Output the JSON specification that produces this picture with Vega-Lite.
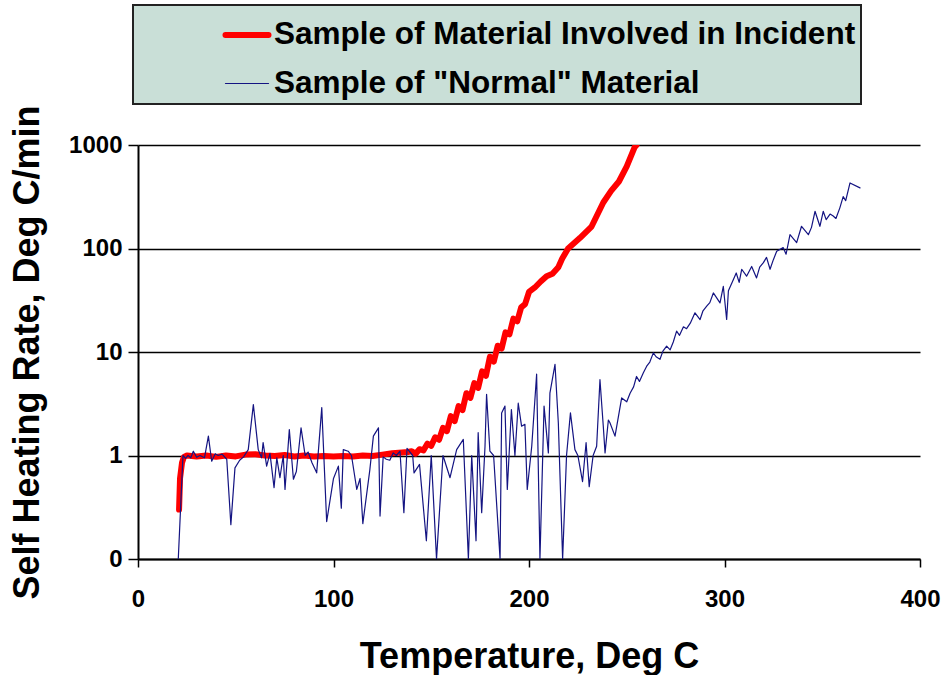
{
  "$schema": "https://vega.github.io/schema/vega-lite/v6.json",
  "width": 782,
  "height": 414,
  "autosize": {"type": "none"},
  "padding": {"left": 138, "top": 145, "right": 27, "bottom": 116},
  "background": "white",
  "config": {"font": "Liberation Sans", "view": {"stroke": null}},
  "data": {"values": [
    {"series": "Sample of Material Involved in Incident", "temp": 21, "rate": 0.3},
    {"series": "Sample of Material Involved in Incident", "temp": 21.5, "rate": 0.6},
    {"series": "Sample of Material Involved in Incident", "temp": 22.5, "rate": 0.85},
    {"series": "Sample of Material Involved in Incident", "temp": 23.5, "rate": 0.97},
    {"series": "Sample of Material Involved in Incident", "temp": 25, "rate": 1.0},
    {"series": "Sample of Material Involved in Incident", "temp": 30, "rate": 0.98},
    {"series": "Sample of Material Involved in Incident", "temp": 35, "rate": 1.0},
    {"series": "Sample of Material Involved in Incident", "temp": 40, "rate": 0.97},
    {"series": "Sample of Material Involved in Incident", "temp": 45, "rate": 1.0},
    {"series": "Sample of Material Involved in Incident", "temp": 50, "rate": 0.98},
    {"series": "Sample of Material Involved in Incident", "temp": 55, "rate": 1.02},
    {"series": "Sample of Material Involved in Incident", "temp": 60, "rate": 1.03},
    {"series": "Sample of Material Involved in Incident", "temp": 65, "rate": 1.0},
    {"series": "Sample of Material Involved in Incident", "temp": 70, "rate": 0.99},
    {"series": "Sample of Material Involved in Incident", "temp": 75, "rate": 1.01},
    {"series": "Sample of Material Involved in Incident", "temp": 80, "rate": 0.98},
    {"series": "Sample of Material Involved in Incident", "temp": 85, "rate": 1.0},
    {"series": "Sample of Material Involved in Incident", "temp": 90, "rate": 0.98},
    {"series": "Sample of Material Involved in Incident", "temp": 95, "rate": 0.99},
    {"series": "Sample of Material Involved in Incident", "temp": 100, "rate": 0.98},
    {"series": "Sample of Material Involved in Incident", "temp": 105, "rate": 0.99},
    {"series": "Sample of Material Involved in Incident", "temp": 110, "rate": 0.98},
    {"series": "Sample of Material Involved in Incident", "temp": 115, "rate": 1.0},
    {"series": "Sample of Material Involved in Incident", "temp": 120, "rate": 0.99},
    {"series": "Sample of Material Involved in Incident", "temp": 125, "rate": 1.02},
    {"series": "Sample of Material Involved in Incident", "temp": 130, "rate": 1.05},
    {"series": "Sample of Material Involved in Incident", "temp": 135, "rate": 1.07},
    {"series": "Sample of Material Involved in Incident", "temp": 138, "rate": 1.08},
    {"series": "Sample of Material Involved in Incident", "temp": 140, "rate": 1.1},
    {"series": "Sample of Material Involved in Incident", "temp": 142, "rate": 1.04},
    {"series": "Sample of Material Involved in Incident", "temp": 144, "rate": 1.15},
    {"series": "Sample of Material Involved in Incident", "temp": 146, "rate": 1.12},
    {"series": "Sample of Material Involved in Incident", "temp": 148, "rate": 1.3},
    {"series": "Sample of Material Involved in Incident", "temp": 150, "rate": 1.24},
    {"series": "Sample of Material Involved in Incident", "temp": 152, "rate": 1.5},
    {"series": "Sample of Material Involved in Incident", "temp": 154, "rate": 1.42},
    {"series": "Sample of Material Involved in Incident", "temp": 156, "rate": 1.85},
    {"series": "Sample of Material Involved in Incident", "temp": 158, "rate": 1.72},
    {"series": "Sample of Material Involved in Incident", "temp": 160, "rate": 2.4},
    {"series": "Sample of Material Involved in Incident", "temp": 162, "rate": 2.15},
    {"series": "Sample of Material Involved in Incident", "temp": 164, "rate": 3.0},
    {"series": "Sample of Material Involved in Incident", "temp": 166, "rate": 2.75},
    {"series": "Sample of Material Involved in Incident", "temp": 168, "rate": 4.0},
    {"series": "Sample of Material Involved in Incident", "temp": 170, "rate": 3.6},
    {"series": "Sample of Material Involved in Incident", "temp": 172, "rate": 5.0},
    {"series": "Sample of Material Involved in Incident", "temp": 174, "rate": 4.5},
    {"series": "Sample of Material Involved in Incident", "temp": 176, "rate": 6.5},
    {"series": "Sample of Material Involved in Incident", "temp": 178, "rate": 5.9},
    {"series": "Sample of Material Involved in Incident", "temp": 180, "rate": 9.0},
    {"series": "Sample of Material Involved in Incident", "temp": 182, "rate": 8.1},
    {"series": "Sample of Material Involved in Incident", "temp": 184, "rate": 11.5},
    {"series": "Sample of Material Involved in Incident", "temp": 186, "rate": 10.8},
    {"series": "Sample of Material Involved in Incident", "temp": 188, "rate": 15.5},
    {"series": "Sample of Material Involved in Incident", "temp": 190, "rate": 14.8},
    {"series": "Sample of Material Involved in Incident", "temp": 192, "rate": 21},
    {"series": "Sample of Material Involved in Incident", "temp": 194, "rate": 19.8},
    {"series": "Sample of Material Involved in Incident", "temp": 196, "rate": 27},
    {"series": "Sample of Material Involved in Incident", "temp": 198, "rate": 29},
    {"series": "Sample of Material Involved in Incident", "temp": 200, "rate": 38},
    {"series": "Sample of Material Involved in Incident", "temp": 203, "rate": 42},
    {"series": "Sample of Material Involved in Incident", "temp": 206, "rate": 48},
    {"series": "Sample of Material Involved in Incident", "temp": 209, "rate": 54},
    {"series": "Sample of Material Involved in Incident", "temp": 212, "rate": 57},
    {"series": "Sample of Material Involved in Incident", "temp": 215, "rate": 66},
    {"series": "Sample of Material Involved in Incident", "temp": 217, "rate": 80},
    {"series": "Sample of Material Involved in Incident", "temp": 220, "rate": 100},
    {"series": "Sample of Material Involved in Incident", "temp": 226, "rate": 126},
    {"series": "Sample of Material Involved in Incident", "temp": 232, "rate": 163},
    {"series": "Sample of Material Involved in Incident", "temp": 238, "rate": 278},
    {"series": "Sample of Material Involved in Incident", "temp": 242, "rate": 360},
    {"series": "Sample of Material Involved in Incident", "temp": 246, "rate": 444},
    {"series": "Sample of Material Involved in Incident", "temp": 250, "rate": 620},
    {"series": "Sample of Material Involved in Incident", "temp": 254, "rate": 950},
    {"series": "Sample of Material Involved in Incident", "temp": 255, "rate": 1000},
    {"series": "Sample of \"Normal\" Material", "temp": 20.6, "rate": 0.1},
    {"series": "Sample of \"Normal\" Material", "temp": 23, "rate": 1.0},
    {"series": "Sample of \"Normal\" Material", "temp": 24.3, "rate": 0.94},
    {"series": "Sample of \"Normal\" Material", "temp": 25.6, "rate": 1.0},
    {"series": "Sample of \"Normal\" Material", "temp": 27, "rate": 0.95},
    {"series": "Sample of \"Normal\" Material", "temp": 28.3, "rate": 1.1},
    {"series": "Sample of \"Normal\" Material", "temp": 30, "rate": 0.96},
    {"series": "Sample of \"Normal\" Material", "temp": 31.7, "rate": 1.0},
    {"series": "Sample of \"Normal\" Material", "temp": 34, "rate": 0.95},
    {"series": "Sample of \"Normal\" Material", "temp": 36, "rate": 1.54},
    {"series": "Sample of \"Normal\" Material", "temp": 37.7, "rate": 0.88},
    {"series": "Sample of \"Normal\" Material", "temp": 39.5, "rate": 1.04},
    {"series": "Sample of \"Normal\" Material", "temp": 41, "rate": 1.0},
    {"series": "Sample of \"Normal\" Material", "temp": 43, "rate": 1.03},
    {"series": "Sample of \"Normal\" Material", "temp": 45.4, "rate": 0.92},
    {"series": "Sample of \"Normal\" Material", "temp": 47.5, "rate": 0.215},
    {"series": "Sample of \"Normal\" Material", "temp": 49.6, "rate": 0.76},
    {"series": "Sample of \"Normal\" Material", "temp": 52, "rate": 0.9},
    {"series": "Sample of \"Normal\" Material", "temp": 54, "rate": 0.97},
    {"series": "Sample of \"Normal\" Material", "temp": 56.4, "rate": 1.14},
    {"series": "Sample of \"Normal\" Material", "temp": 59, "rate": 3.1},
    {"series": "Sample of \"Normal\" Material", "temp": 61.5, "rate": 1.14},
    {"series": "Sample of \"Normal\" Material", "temp": 63.2, "rate": 0.95},
    {"series": "Sample of \"Normal\" Material", "temp": 64, "rate": 1.33},
    {"series": "Sample of \"Normal\" Material", "temp": 65.8, "rate": 0.79},
    {"series": "Sample of \"Normal\" Material", "temp": 67.5, "rate": 1.05},
    {"series": "Sample of \"Normal\" Material", "temp": 69.6, "rate": 0.49},
    {"series": "Sample of \"Normal\" Material", "temp": 71, "rate": 0.95},
    {"series": "Sample of \"Normal\" Material", "temp": 72.6, "rate": 0.61},
    {"series": "Sample of \"Normal\" Material", "temp": 74.3, "rate": 1.0},
    {"series": "Sample of \"Normal\" Material", "temp": 75.2, "rate": 0.47},
    {"series": "Sample of \"Normal\" Material", "temp": 77.4, "rate": 1.78},
    {"series": "Sample of \"Normal\" Material", "temp": 79.5, "rate": 0.59},
    {"series": "Sample of \"Normal\" Material", "temp": 81, "rate": 0.7},
    {"series": "Sample of \"Normal\" Material", "temp": 83.4, "rate": 1.85},
    {"series": "Sample of \"Normal\" Material", "temp": 85.5, "rate": 1.0},
    {"series": "Sample of \"Normal\" Material", "temp": 87, "rate": 1.08},
    {"series": "Sample of \"Normal\" Material", "temp": 89, "rate": 0.85},
    {"series": "Sample of \"Normal\" Material", "temp": 91.4, "rate": 0.68},
    {"series": "Sample of \"Normal\" Material", "temp": 94, "rate": 2.9},
    {"series": "Sample of \"Normal\" Material", "temp": 96.5, "rate": 0.23},
    {"series": "Sample of \"Normal\" Material", "temp": 100, "rate": 0.6},
    {"series": "Sample of \"Normal\" Material", "temp": 102.5, "rate": 0.79},
    {"series": "Sample of \"Normal\" Material", "temp": 104, "rate": 0.31},
    {"series": "Sample of \"Normal\" Material", "temp": 105, "rate": 1.14},
    {"series": "Sample of \"Normal\" Material", "temp": 107.5, "rate": 1.1},
    {"series": "Sample of \"Normal\" Material", "temp": 109.2, "rate": 1.0},
    {"series": "Sample of \"Normal\" Material", "temp": 111.9, "rate": 0.47},
    {"series": "Sample of \"Normal\" Material", "temp": 113.6, "rate": 0.6},
    {"series": "Sample of \"Normal\" Material", "temp": 115, "rate": 0.22},
    {"series": "Sample of \"Normal\" Material", "temp": 118.6, "rate": 0.73},
    {"series": "Sample of \"Normal\" Material", "temp": 120.4, "rate": 1.54},
    {"series": "Sample of \"Normal\" Material", "temp": 123, "rate": 1.85},
    {"series": "Sample of \"Normal\" Material", "temp": 123.8, "rate": 0.26},
    {"series": "Sample of \"Normal\" Material", "temp": 125.4, "rate": 0.97},
    {"series": "Sample of \"Normal\" Material", "temp": 127, "rate": 0.92},
    {"series": "Sample of \"Normal\" Material", "temp": 128.8, "rate": 0.9},
    {"series": "Sample of \"Normal\" Material", "temp": 130.5, "rate": 1.06},
    {"series": "Sample of \"Normal\" Material", "temp": 132.2, "rate": 1.0},
    {"series": "Sample of \"Normal\" Material", "temp": 134, "rate": 1.1},
    {"series": "Sample of \"Normal\" Material", "temp": 136, "rate": 0.28},
    {"series": "Sample of \"Normal\" Material", "temp": 137.6, "rate": 1.17},
    {"series": "Sample of \"Normal\" Material", "temp": 140.5, "rate": 1.0},
    {"series": "Sample of \"Normal\" Material", "temp": 141.2, "rate": 0.68},
    {"series": "Sample of \"Normal\" Material", "temp": 144, "rate": 0.82},
    {"series": "Sample of \"Normal\" Material", "temp": 147.5, "rate": 0.15},
    {"series": "Sample of \"Normal\" Material", "temp": 150, "rate": 1.0},
    {"series": "Sample of \"Normal\" Material", "temp": 152.7, "rate": 0.1},
    {"series": "Sample of \"Normal\" Material", "temp": 156, "rate": 1.0},
    {"series": "Sample of \"Normal\" Material", "temp": 159.6, "rate": 0.61},
    {"series": "Sample of \"Normal\" Material", "temp": 163, "rate": 1.14},
    {"series": "Sample of \"Normal\" Material", "temp": 166.4, "rate": 1.43},
    {"series": "Sample of \"Normal\" Material", "temp": 169, "rate": 0.1},
    {"series": "Sample of \"Normal\" Material", "temp": 170.7, "rate": 1.0},
    {"series": "Sample of \"Normal\" Material", "temp": 172.9, "rate": 0.15},
    {"series": "Sample of \"Normal\" Material", "temp": 174, "rate": 1.66},
    {"series": "Sample of \"Normal\" Material", "temp": 175.8, "rate": 0.28},
    {"series": "Sample of \"Normal\" Material", "temp": 177.5, "rate": 1.23},
    {"series": "Sample of \"Normal\" Material", "temp": 178.3, "rate": 3.9},
    {"series": "Sample of \"Normal\" Material", "temp": 180, "rate": 1.1},
    {"series": "Sample of \"Normal\" Material", "temp": 181.9, "rate": 1.0},
    {"series": "Sample of \"Normal\" Material", "temp": 185.2, "rate": 0.1},
    {"series": "Sample of \"Normal\" Material", "temp": 186, "rate": 2.58},
    {"series": "Sample of \"Normal\" Material", "temp": 187.7, "rate": 3.0},
    {"series": "Sample of \"Normal\" Material", "temp": 188.9, "rate": 0.47},
    {"series": "Sample of \"Normal\" Material", "temp": 191, "rate": 2.78},
    {"series": "Sample of \"Normal\" Material", "temp": 192.8, "rate": 1.0},
    {"series": "Sample of \"Normal\" Material", "temp": 194.5, "rate": 3.2},
    {"series": "Sample of \"Normal\" Material", "temp": 196.2, "rate": 1.92},
    {"series": "Sample of \"Normal\" Material", "temp": 197.9, "rate": 2.0},
    {"series": "Sample of \"Normal\" Material", "temp": 199.1, "rate": 0.47},
    {"series": "Sample of \"Normal\" Material", "temp": 201.4, "rate": 1.23},
    {"series": "Sample of \"Normal\" Material", "temp": 203.9, "rate": 6.1},
    {"series": "Sample of \"Normal\" Material", "temp": 205.6, "rate": 0.1},
    {"series": "Sample of \"Normal\" Material", "temp": 207.7, "rate": 3.0},
    {"series": "Sample of \"Normal\" Material", "temp": 209.9, "rate": 1.06},
    {"series": "Sample of \"Normal\" Material", "temp": 210.7, "rate": 4.0},
    {"series": "Sample of \"Normal\" Material", "temp": 213.3, "rate": 7.6},
    {"series": "Sample of \"Normal\" Material", "temp": 215, "rate": 2.07},
    {"series": "Sample of \"Normal\" Material", "temp": 217.2, "rate": 0.1},
    {"series": "Sample of \"Normal\" Material", "temp": 219.2, "rate": 1.0},
    {"series": "Sample of \"Normal\" Material", "temp": 221.2, "rate": 2.58},
    {"series": "Sample of \"Normal\" Material", "temp": 223.5, "rate": 1.14},
    {"series": "Sample of \"Normal\" Material", "temp": 225, "rate": 1.0},
    {"series": "Sample of \"Normal\" Material", "temp": 227.4, "rate": 0.56},
    {"series": "Sample of \"Normal\" Material", "temp": 229.2, "rate": 1.33},
    {"series": "Sample of \"Normal\" Material", "temp": 230.8, "rate": 0.5},
    {"series": "Sample of \"Normal\" Material", "temp": 232.8, "rate": 1.0},
    {"series": "Sample of \"Normal\" Material", "temp": 234.6, "rate": 1.23},
    {"series": "Sample of \"Normal\" Material", "temp": 236.3, "rate": 5.4},
    {"series": "Sample of \"Normal\" Material", "temp": 238, "rate": 1.92},
    {"series": "Sample of \"Normal\" Material", "temp": 238.9, "rate": 1.06},
    {"series": "Sample of \"Normal\" Material", "temp": 240.6, "rate": 2.2},
    {"series": "Sample of \"Normal\" Material", "temp": 241.4, "rate": 2.07},
    {"series": "Sample of \"Normal\" Material", "temp": 244, "rate": 1.54},
    {"series": "Sample of \"Normal\" Material", "temp": 247.4, "rate": 3.6},
    {"series": "Sample of \"Normal\" Material", "temp": 250, "rate": 3.3},
    {"series": "Sample of \"Normal\" Material", "temp": 251.7, "rate": 4.0},
    {"series": "Sample of \"Normal\" Material", "temp": 253.5, "rate": 4.6},
    {"series": "Sample of \"Normal\" Material", "temp": 255, "rate": 5.8},
    {"series": "Sample of \"Normal\" Material", "temp": 256.5, "rate": 5.2},
    {"series": "Sample of \"Normal\" Material", "temp": 258.5, "rate": 6.3},
    {"series": "Sample of \"Normal\" Material", "temp": 260.2, "rate": 7.3},
    {"series": "Sample of \"Normal\" Material", "temp": 261.8, "rate": 8.0},
    {"series": "Sample of \"Normal\" Material", "temp": 263.6, "rate": 9.8},
    {"series": "Sample of \"Normal\" Material", "temp": 265, "rate": 9.0},
    {"series": "Sample of \"Normal\" Material", "temp": 267, "rate": 8.5},
    {"series": "Sample of \"Normal\" Material", "temp": 268.5, "rate": 10.2},
    {"series": "Sample of \"Normal\" Material", "temp": 270.4, "rate": 11.4},
    {"series": "Sample of \"Normal\" Material", "temp": 272.2, "rate": 10.5},
    {"series": "Sample of \"Normal\" Material", "temp": 273.8, "rate": 12.5},
    {"series": "Sample of \"Normal\" Material", "temp": 275.5, "rate": 15.9},
    {"series": "Sample of \"Normal\" Material", "temp": 277, "rate": 14.5},
    {"series": "Sample of \"Normal\" Material", "temp": 279, "rate": 17.5},
    {"series": "Sample of \"Normal\" Material", "temp": 280.6, "rate": 16.8},
    {"series": "Sample of \"Normal\" Material", "temp": 282.5, "rate": 19},
    {"series": "Sample of \"Normal\" Material", "temp": 284.9, "rate": 23.9},
    {"series": "Sample of \"Normal\" Material", "temp": 287.5, "rate": 20.6},
    {"series": "Sample of \"Normal\" Material", "temp": 289, "rate": 25},
    {"series": "Sample of \"Normal\" Material", "temp": 290.9, "rate": 27.7},
    {"series": "Sample of \"Normal\" Material", "temp": 292.5, "rate": 30},
    {"series": "Sample of \"Normal\" Material", "temp": 294.3, "rate": 37.2},
    {"series": "Sample of \"Normal\" Material", "temp": 297.7, "rate": 29.8},
    {"series": "Sample of \"Normal\" Material", "temp": 299.4, "rate": 43},
    {"series": "Sample of \"Normal\" Material", "temp": 301.1, "rate": 20.6},
    {"series": "Sample of \"Normal\" Material", "temp": 302, "rate": 39},
    {"series": "Sample of \"Normal\" Material", "temp": 304.5, "rate": 50},
    {"series": "Sample of \"Normal\" Material", "temp": 306, "rate": 58},
    {"series": "Sample of \"Normal\" Material", "temp": 307.5, "rate": 47},
    {"series": "Sample of \"Normal\" Material", "temp": 308.8, "rate": 63},
    {"series": "Sample of \"Normal\" Material", "temp": 311.3, "rate": 54},
    {"series": "Sample of \"Normal\" Material", "temp": 313.9, "rate": 67},
    {"series": "Sample of \"Normal\" Material", "temp": 316.4, "rate": 52},
    {"series": "Sample of \"Normal\" Material", "temp": 318, "rate": 66},
    {"series": "Sample of \"Normal\" Material", "temp": 319.9, "rate": 73},
    {"series": "Sample of \"Normal\" Material", "temp": 321.5, "rate": 82},
    {"series": "Sample of \"Normal\" Material", "temp": 323.3, "rate": 63},
    {"series": "Sample of \"Normal\" Material", "temp": 325, "rate": 78},
    {"series": "Sample of \"Normal\" Material", "temp": 326.7, "rate": 94},
    {"series": "Sample of \"Normal\" Material", "temp": 330, "rate": 102},
    {"series": "Sample of \"Normal\" Material", "temp": 331.5, "rate": 88},
    {"series": "Sample of \"Normal\" Material", "temp": 333.5, "rate": 136},
    {"series": "Sample of \"Normal\" Material", "temp": 336.9, "rate": 114},
    {"series": "Sample of \"Normal\" Material", "temp": 339.4, "rate": 164},
    {"series": "Sample of \"Normal\" Material", "temp": 342.9, "rate": 136},
    {"series": "Sample of \"Normal\" Material", "temp": 344.5, "rate": 160},
    {"series": "Sample of \"Normal\" Material", "temp": 346.3, "rate": 229},
    {"series": "Sample of \"Normal\" Material", "temp": 348.8, "rate": 164},
    {"series": "Sample of \"Normal\" Material", "temp": 350.5, "rate": 229},
    {"series": "Sample of \"Normal\" Material", "temp": 352, "rate": 190},
    {"series": "Sample of \"Normal\" Material", "temp": 354, "rate": 215},
    {"series": "Sample of \"Normal\" Material", "temp": 355.6, "rate": 206},
    {"series": "Sample of \"Normal\" Material", "temp": 357, "rate": 195},
    {"series": "Sample of \"Normal\" Material", "temp": 359, "rate": 247},
    {"series": "Sample of \"Normal\" Material", "temp": 360.7, "rate": 317},
    {"series": "Sample of \"Normal\" Material", "temp": 362, "rate": 290},
    {"series": "Sample of \"Normal\" Material", "temp": 364.2, "rate": 430},
    {"series": "Sample of \"Normal\" Material", "temp": 369.3, "rate": 385}
  ]},
  "mark": {"type": "line", "strokeJoin": "round", "strokeCap": "round", "clip": true},
  "encoding": {
    "x": {
      "field": "temp", "type": "quantitative",
      "scale": {"domain": [0, 400], "nice": false, "zero": false},
      "axis": {
        "title": "Temperature, Deg C",
        "values": [0, 100, 200, 300, 400],
        "grid": false,
        "domainColor": "#000", "domainWidth": 2,
        "tickColor": "#000", "tickWidth": 1.5, "tickSize": 8,
        "labelFontSize": 24, "labelFontWeight": "bold", "labelColor": "#000",
        "labelPadding": 20, "labelFlush": false,
        "titleFontSize": 36, "titleFontWeight": "bold", "titleColor": "#000",
        "titleBaseline": "alphabetic", "titleY": 108, "titleX": 391
      }
    },
    "y": {
      "field": "rate", "type": "quantitative",
      "scale": {"type": "log", "domain": [0.1, 1000], "nice": false},
      "axis": {
        "title": "Self Heating Rate, Deg C/min",
        "values": [0.1, 1, 10, 100, 1000],
        "labelExpr": "datum.value < 1 ? '0' : format(datum.value, 'd')",
        "grid": true, "gridColor": "#000", "gridWidth": 1.4, "gridOpacity": 1,
        "domainColor": "#000", "domainWidth": 2,
        "tickColor": "#000", "tickWidth": 1.5, "tickSize": 10,
        "labelFontSize": 24, "labelFontWeight": "bold", "labelColor": "#000",
        "labelPadding": 6, "labelFlush": false,
        "titleFontSize": 36, "titleFontWeight": "bold", "titleColor": "#000",
        "titleAngle": -90, "titleBaseline": "middle", "titleAlign": "center",
        "titleX": -111, "titleY": 207
      }
    },
    "color": {
      "field": "series", "type": "nominal",
      "scale": {
        "domain": ["Sample of Material Involved in Incident", "Sample of \"Normal\" Material"],
        "range": ["#FF0000", "#141482"]
      },
      "legend": {
        "title": null,
        "orient": "none",
        "legendX": -5,
        "legendY": -140,
        "direction": "vertical",
        "fillColor": "#C9DFD7",
        "strokeColor": "#222222",
        "padding": 5,
        "rowPadding": 10,
        "symbolType": "stroke",
        "symbolSize": 1850,
        "symbolOffset": 84,
        "labelOffset": 2,
        "labelFontSize": 31.5,
        "labelFontWeight": "bold",
        "labelColor": "#000",
        "labelLimit": 900,
        "encode": {
          "symbols": {"update": {
            "strokeWidth": {"signal": "datum.value === 'Sample of Material Involved in Incident' ? 8 : 1.6"},
            "strokeCap": {"value": "round"}
          }},
          "legend": {"update": {"strokeWidth": {"value": 2}}}
        }
      }
    },
    "strokeWidth": {
      "field": "series", "type": "nominal",
      "scale": {
        "domain": ["Sample of Material Involved in Incident", "Sample of \"Normal\" Material"],
        "range": [6, 1.2]
      },
      "legend": null
    }
  }
}
